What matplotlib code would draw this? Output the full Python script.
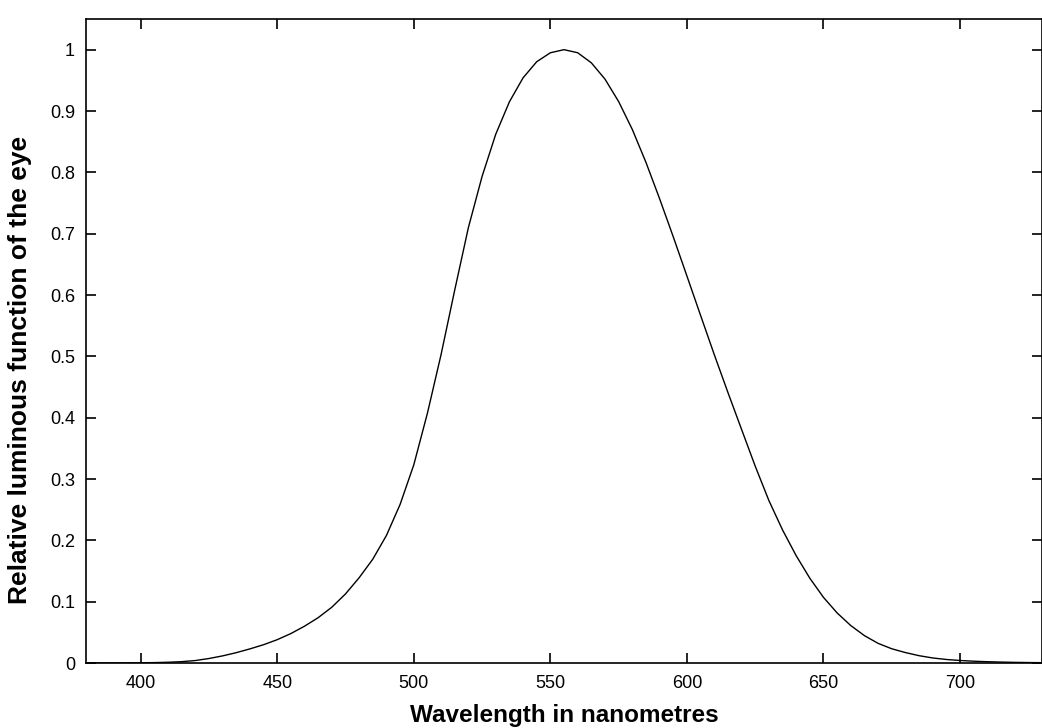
import matplotlib
matplotlib.use("Agg")
import matplotlib.pyplot as plt
import numpy as np

wavelength = [380, 385, 390, 395, 400, 405, 410, 415, 420, 425, 430, 435, 440, 445,
              450, 455, 460, 465, 470, 475, 480, 485, 490, 495, 500, 505, 510, 515,
              520, 525, 530, 535, 540, 545, 550, 555, 560, 565, 570, 575, 580, 585,
              590, 595, 600, 605, 610, 615, 620, 625, 630, 635, 640, 645, 650, 655,
              660, 665, 670, 675, 680, 685, 690, 695, 700, 705, 710, 715, 720, 725, 730]
luminosity = [0.000039, 0.000064, 0.00012, 0.000217, 0.000396, 0.00064, 0.00121, 0.00218,
              0.004, 0.0073, 0.0116, 0.01684, 0.023, 0.0298, 0.038, 0.048, 0.06, 0.0739,
              0.09098, 0.1126, 0.13902, 0.1693, 0.20802, 0.2586, 0.323, 0.4073, 0.503,
              0.6082, 0.71, 0.7932, 0.862, 0.91485, 0.954, 0.9803, 0.99495, 1.0, 0.995,
              0.9786, 0.952, 0.9154, 0.87, 0.8163, 0.757, 0.6949, 0.631, 0.5668, 0.503,
              0.4412, 0.381, 0.321, 0.265, 0.217, 0.175, 0.1382, 0.107, 0.0816, 0.061,
              0.04458, 0.032, 0.0232, 0.017, 0.01192, 0.00821, 0.005723, 0.004102,
              0.002929, 0.002091, 0.001484, 0.001047, 0.00074, 0.00052]

xticks = [400, 450, 500, 550, 600, 650, 700]
yticks = [0, 0.1, 0.2, 0.3, 0.4, 0.5, 0.6, 0.7, 0.8, 0.9, 1]
ytick_labels = ["0", "0.1", "0.2", "0.3", "0.4", "0.5", "0.6", "0.7", "0.8", "0.9", "1"]

plt.rcParams['font.family'] = ['Liberation Sans', 'DejaVu Sans']

fig = plt.figure(figsize=(10.42, 7.28), dpi=100)
ax = fig.add_axes([86/1042, 65/728, 1 - 86/1042, (663-19)/728])
ax.plot(wavelength, luminosity, color='black', linewidth=1.0)
ax.set_xlim(380, 730)
ax.set_ylim(0, 1.05)
ax.set_xticks(xticks)
ax.set_xticklabels([str(v) for v in xticks])
ax.set_yticks(yticks)
ax.set_yticklabels(ytick_labels)
ax.tick_params(direction='in', length=7, width=1.2, top=True, right=True,
               labelsize=13, colors='black')
ax.tick_params(axis='x', pad=9)
ax.tick_params(axis='y', pad=8)
for s in ax.spines.values():
    s.set_linewidth(1.2)
ax.set_xlabel("Wavelength in nanometres", fontsize=17.5, fontweight='bold', labelpad=8)
ax.set_ylabel("Relative luminous function of the eye", fontsize=19, fontweight='bold')
ax.yaxis.set_label_coords(-0.056, 0.455)
fig.savefig("out.png", dpi=100)
